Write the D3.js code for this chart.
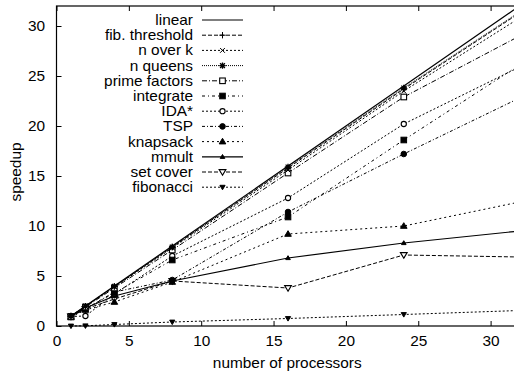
<!DOCTYPE html>
<html>
<head>
<meta charset="utf-8">
<script src="https://cdn.jsdelivr.net/npm/d3@7"></script>
<style>
  body { margin: 0; background: #fff; }
  svg { display: block; }
  text { font-family: "Liberation Sans", Arial, sans-serif; font-size: 14px; fill: #000; }
</style>
</head>
<body>
<div id="chart"></div>
<script>
const procs = [1, 2, 4, 8, 16, 24, 32];
const linear = [1, 2, 4, 8, 16, 24, 32];
const fibThreshold = [1, 1.98, 3.95, 7.9, 15.8, 23.7, 31.3];
const nOverK = [1, 1.95, 3.9, 7.8, 15.6, 23.5, 30.8];
const nQueens = [1, 1.98, 3.96, 7.9, 15.9, 23.8, 31.4];
const primeFactors = [0.95, 1.9, 3.8, 7.6, 15.3, 22.9, 29.0];
const integrate = [0.9, 1.75, 3.3, 6.6, 10.9, 18.6, 26.1];
const idaStar = [0.95, 1.0, 3.2, 7.0, 12.8, 20.2, 25.9];
const tsp = [0.95, 1.7, 3.4, 4.6, 11.4, 17.2, 22.8];
const knapsack = [0.9, 1.6, 2.4, 4.4, 9.2, 10.0, 12.4];
const mmult = [1, 1.8, 3.0, 4.5, 6.8, 8.3, 9.5];
const setCover = [0.95, 1.7, 2.7, 4.5, 3.8, 7.1, 6.9];
const fibonacci = [0.0, 0.02, 0.15, 0.4, 0.75, 1.15, 1.55];

const xTicks = [0, 5, 10, 15, 20, 25, 30];
const yTicks = [0, 5, 10, 15, 20, 25, 30];

const seriesNames = ['linear', 'fib. threshold', 'n over k', 'n queens', 'prime factors', 'integrate',
  'IDA*', 'TSP', 'knapsack', 'mmult', 'set cover', 'fibonacci'];
const seriesValues = [linear, fibThreshold, nOverK, nQueens, primeFactors, integrate,
  idaStar, tsp, knapsack, mmult, setCover, fibonacci];

// line style + marker per series
const styles = [
  {dash: null, marker: null, w: 1.2},
  {dash: '4,2', marker: 'plus'},
  {dash: '2,2', marker: 'times'},
  {dash: '1,1', marker: 'star'},
  {dash: '5,2,1,2', marker: 'square'},
  {dash: '3,3,1,3', marker: 'squareFill'},
  {dash: '2,2', marker: 'circle'},
  {dash: '3,2,1,2', marker: 'circleFill'},
  {dash: '2,3', marker: 'triFill'},
  {dash: null, marker: 'triSmall', w: 1.2},
  {dash: '4,2', marker: 'triDown'},
  {dash: '2,2', marker: 'triDownFill'}
];

const width = 514, height = 376;
const X0 = 56.5, PX = 14.47, Y0 = 326, Y1 = 6;
const stretch = 1.1;

const svg = d3.select('#chart').append('svg').attr('width', width).attr('height', height);

const x = d3.scaleLinear().domain([0, 32]).range([X0, X0 + 32 * PX]);
const y = d3.scaleLinear().domain([0, 32]).range([Y0, Y1]);

// frame
svg.append('rect')
  .attr('x', x(0)).attr('y', y(32))
  .attr('width', x(32) - x(0)).attr('height', y(0) - y(32))
  .attr('fill', 'none').attr('stroke', '#000').attr('stroke-width', 1.2);

const xAxis = svg.append('g').attr('transform', `translate(0,${Y0})`)
  .call(d3.axisBottom(x).tickValues(xTicks).tickSizeInner(-5).tickSizeOuter(0).tickPadding(10.5));
const yAxis = svg.append('g').attr('transform', `translate(${X0},0)`)
  .call(d3.axisLeft(y).tickValues(yTicks).tickSizeInner(-5).tickSizeOuter(0).tickPadding(11));
// mirrored ticks on top
const xTop = svg.append('g').attr('transform', `translate(0,${Y1})`)
  .call(d3.axisTop(x).tickValues(xTicks).tickSizeInner(-5).tickSizeOuter(0).tickFormat(''));

[xAxis, yAxis, xTop].forEach(g => {
  g.select('.domain').remove();
  g.selectAll('line').attr('stroke', '#000').attr('stroke-width', 1);
  g.selectAll('text').attr('font-family', null).attr('font-size', null);
});
xAxis.selectAll('text').attr('transform', `scale(${stretch},1)`);
yAxis.selectAll('text').attr('x', -11.5 / stretch).attr('transform', `scale(${stretch},1)`);

// axis titles
svg.append('text')
  .attr('transform', `translate(${(x(0) + 514) / 2 + 2},368) scale(${stretch},1)`)
  .attr('text-anchor', 'middle').text('number of processors');
svg.append('text')
  .attr('transform', `translate(21,172) rotate(-90) scale(${stretch},1)`)
  .attr('text-anchor', 'middle').text('speedup');

function drawMarker(g, type, cx, cy) {
  const s = 3.2;
  const st = {stroke: '#000', 'stroke-width': 1, fill: 'none'};
  const app = (tag, attrs) => {
    const el = g.append(tag);
    Object.entries(Object.assign({}, st, attrs)).forEach(([k, v]) => el.attr(k, v));
    return el;
  };
  if (type === 'plus') {
    app('path', {d: `M${cx - s},${cy}H${cx + s}M${cx},${cy - s}V${cy + s}`});
  } else if (type === 'times') {
    const t = 2.4;
    app('path', {d: `M${cx - t},${cy - t}L${cx + t},${cy + t}M${cx - t},${cy + t}L${cx + t},${cy - t}`});
  } else if (type === 'star') {
    const t = 2.4;
    app('path', {d: `M${cx - s},${cy}H${cx + s}M${cx},${cy - s}V${cy + s}M${cx - t},${cy - t}L${cx + t},${cy + t}M${cx - t},${cy + t}L${cx + t},${cy - t}`, 'stroke-width': 1.3});
  } else if (type === 'square') {
    app('rect', {x: cx - 2.8, y: cy - 2.8, width: 5.6, height: 5.6, fill: '#fff', 'stroke-width': 1.1});
  } else if (type === 'squareFill') {
    app('rect', {x: cx - 2.8, y: cy - 2.8, width: 5.6, height: 5.6, fill: '#000'});
  } else if (type === 'circle') {
    app('circle', {cx: cx, cy: cy, r: 2.6, fill: '#fff', 'stroke-width': 1.1});
  } else if (type === 'circleFill') {
    app('circle', {cx: cx, cy: cy, r: 2.8, fill: '#000'});
  } else if (type === 'triFill') {
    app('path', {d: `M${cx},${cy - 3.3}L${cx + 3.3},${cy + 2.3}L${cx - 3.3},${cy + 2.3}Z`, fill: '#000'});
  } else if (type === 'triSmall') {
    app('path', {d: `M${cx},${cy - 2.3}L${cx + 2.3},${cy + 1.6}L${cx - 2.3},${cy + 1.6}Z`, fill: '#000'});
  } else if (type === 'triDown') {
    app('path', {d: `M${cx},${cy + 3.2}L${cx + 3.3},${cy - 2.3}L${cx - 3.3},${cy - 2.3}Z`, fill: '#fff', 'stroke-width': 1.2});
  } else if (type === 'triDownFill') {
    app('path', {d: `M${cx},${cy + 2.6}L${cx + 2.6},${cy - 1.9}L${cx - 2.6},${cy - 1.9}Z`, fill: '#000'});
  }
}

const line = d3.line().x(d => x(d[0])).y(d => y(d[1]));

// draw series (last legend entries underneath)
const plot = svg.append('g');
for (let i = seriesValues.length - 1; i >= 0; i--) {
  const st = styles[i];
  const pts = d3.zip(procs, seriesValues[i]);
  plot.append('path')
    .attr('d', line(pts))
    .attr('fill', 'none').attr('stroke', '#000')
    .attr('stroke-width', st.w || 1)
    .attr('stroke-dasharray', st.dash);
  if (st.marker) {
    const mg = plot.append('g');
    pts.forEach(p => drawMarker(mg, st.marker, x(p[0]), y(p[1])));
  }
}

// legend
const legend = svg.append('g');
seriesNames.forEach((name, i) => {
  const ly = 20 + i * 15.2;
  const st = styles[i];
  legend.append('text')
    .attr('transform', `translate(193,${ly + 5}) scale(${stretch},1)`)
    .attr('text-anchor', 'end').text(name);
  legend.append('line')
    .attr('x1', 202).attr('x2', 243).attr('y1', ly).attr('y2', ly)
    .attr('stroke', '#000').attr('stroke-width', st.w || 1)
    .attr('stroke-dasharray', st.dash);
  if (st.marker) drawMarker(legend, st.marker, 222.5, ly);
});
</script>
</body>
</html>
